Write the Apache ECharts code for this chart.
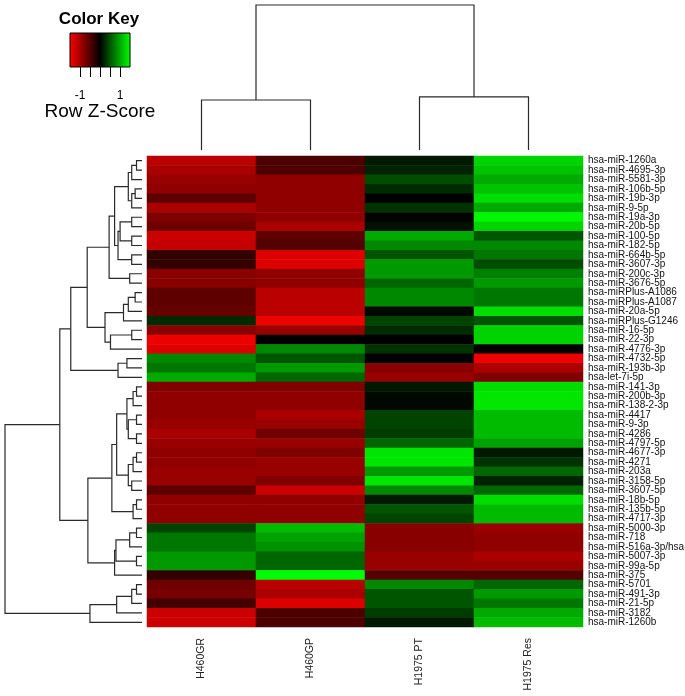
<!DOCTYPE html>
<html style="height: 100%">
<head>
  <meta charset="utf-8">
</head>
<body style="height: 100%; margin: 0; background: #fff">
  <div id="container" style="width: 685px; height: 696px"></div>
  <script type="text/javascript" src="https://cdn.jsdelivr.net/npm/echarts@6/dist/echarts.min.js"></script>
  <script type="text/javascript">
    // samples (columns) and miRNAs (rows, top to bottom)
    var samples = ['H460GR', 'H460GP', 'H1975 PT', 'H1975 Res'];
    var mirnas = [
      'hsa-miR-1260a', 'hsa-miR-4695-3p', 'hsa-miR-5581-3p', 'hsa-miR-106b-5p', 'hsa-miR-19b-3p',
      'hsa-miR-9-5p', 'hsa-miR-19a-3p', 'hsa-miR-20b-5p', 'hsa-miR-100-5p', 'hsa-miR-182-5p',
      'hsa-miR-664b-5p', 'hsa-miR-3607-3p', 'hsa-miR-200c-3p', 'hsa-miR-3676-5p', 'hsa-miRPlus-A1086',
      'hsa-miRPlus-A1087', 'hsa-miR-20a-5p', 'hsa-miRPlus-G1246', 'hsa-miR-16-5p', 'hsa-miR-22-3p',
      'hsa-miR-4776-3p', 'hsa-miR-4732-5p', 'hsa-miR-193b-3p', 'hsa-let-7i-5p', 'hsa-miR-141-3p',
      'hsa-miR-200b-3p', 'hsa-miR-138-2-3p', 'hsa-miR-4417', 'hsa-miR-9-3p', 'hsa-miR-4286',
      'hsa-miR-4797-5p', 'hsa-miR-4677-3p', 'hsa-miR-4271', 'hsa-miR-203a', 'hsa-miR-3158-5p',
      'hsa-miR-3607-5p', 'hsa-miR-18b-5p', 'hsa-miR-135b-5p', 'hsa-miR-4717-3p', 'hsa-miR-5000-3p',
      'hsa-miR-718', 'hsa-miR-516a-3p/hsa-miR-516b-3p', 'hsa-miR-5007-3p', 'hsa-miR-99a-5p', 'hsa-miR-375',
      'hsa-miR-5701', 'hsa-miR-491-3p', 'hsa-miR-21-5p', 'hsa-miR-3182', 'hsa-miR-1260b'
    ];

    // row z-scores, one array per sample
    var zH460GR = [
      -1.1, -1.0, -0.9, -0.85, -0.55, -1.0, -0.75, -0.65, -1.2, -1.15,
      -0.3, -0.3, -0.8, -0.8, -0.55, -0.55, -0.6, 0.25, -0.8, -1.4,
      -1.3, 0.8, 0.7, 1.0, -0.75, -0.85, -0.85, -0.85, -0.9, -1.0,
      -0.9, -0.85, -0.85, -0.9, -0.9, -0.55, -0.85, -0.85, -0.85, 0.4,
      0.7, 0.7, 0.9, 0.9, -0.3, -0.65, -0.7, -0.4, -1.2, -1.2
    ];
    var zH460GP = [
      -0.45, -0.45, -0.85, -0.85, -0.85, -0.85, -0.85, -1.0, -0.55, -0.5,
      -1.3, -1.3, -0.85, -0.85, -1.1, -1.1, -1.1, -1.4, -0.9, 0.0,
      0.8, 0.5, 0.9, 0.6, -0.75, -0.85, -0.85, -1.0, -0.9, -0.65,
      -0.9, -0.75, -0.9, -0.9, -0.75, -1.2, -0.85, -0.85, -0.85, 1.1,
      0.95, 0.85, 0.6, 0.6, 1.5, -1.1, -1.0, -1.3, -0.45, -0.45
    ];
    var zH1975PT = [
      0.15, 0.2, 0.45, 0.25, 0.0, 0.3, 0.02, 0.1, 1.0, 0.8,
      0.5, 0.9, 0.9, 0.6, 0.8, 0.8, 0.05, 0.4, 0.25, 0.0,
      0.3, 0.0, -0.8, -0.9, 0.15, 0.05, 0.05, 0.4, 0.4, 0.35,
      0.6, 1.35, 1.35, 0.9, 1.35, 0.8, 0.15, 0.5, 0.4, -0.8,
      -0.8, -0.8, -0.9, -0.9, -0.5, 0.8, 0.5, 0.5, 0.35, 0.15
    ];
    var zH1975Res = [
      1.25, 1.15, 1.0, 1.15, 1.3, 1.0, 1.45, 1.25, 0.5, 0.8,
      0.7, 0.45, 0.75, 0.9, 0.7, 0.7, 1.3, 0.5, 1.25, 1.25,
      0.0, -1.4, -1.0, -0.75, 1.3, 1.35, 1.35, 1.1, 1.1, 1.1,
      0.95, 0.15, 0.3, 0.6, 0.2, 0.6, 1.3, 1.1, 1.1, -0.9,
      -0.85, -0.85, -1.0, -0.9, -0.5, 0.6, 0.9, 0.7, 1.0, 1.1
    ];

    // dendrograms: [left, right, height], leaves are indices
    var colTree = [[0, 1, 3.45], [2, 3, 3.66], 10];
    var rowTree = [
      [
        [
          [
            [
              [
                [[[0, 1, 0.4], 2, 0.75], [[3, 4, 0.5], 5, 0.75], 1.0],
                [[[6, 7, 0.75], [8, 9, 0.75], 1.6], [10, 11, 0.75], 1.75],
                2.0],
              [12, 13, 0.9],
              2.4],
            [[[[14, 15, 0.5], 16, 1.0], 17, 1.35], [[18, 19, 0.75], 20, 2.3], 2.7],
            4.0],
          [[21, 22, 1.1], 23, 1.75],
          5.2],
        [
          [
            [
              [[[24, 25, 0.4], 26, 0.65], [[27, 28, 0.4], [29, 30, 0.4], 1.0], 1.1],
              [[[31, 32, 0.4], 33, 0.65], [34, 35, 0.75], 1.0],
              1.85],
            [[36, 37, 0.4], 38, 0.65],
            2.2],
          [[[[39, 40, 0.4], 41, 0.9], [42, 43, 0.4], 1.9], 44, 2.0],
          3.95],
        6.0],
      [[[[45, 46, 0.4], 47, 0.75], 48, 1.85], 49, 3.8],
      10
    ];

    var keyRange = [-1.5, 1.5];

    // flatten a nested tree into bracket segments [p1, p2, h, h1, h2]
    function flatten(node, out) {
      if (typeof node === 'number') return { p: node + 0.5, h: 0 };
      var a = flatten(node[0], out), b = flatten(node[1], out);
      out.push([a.p, b.p, node[2], a.h, b.h]);
      return { p: (a.p + b.p) / 2, h: node[2] };
    }
    var colSegs = [], rowSegs = [];
    flatten(colTree, colSegs);
    flatten(rowTree, rowSegs);

    var cells = [];
    [zH460GR, zH460GP, zH1975PT, zH1975Res].forEach(function (col, c) {
      col.forEach(function (v, r) { cells.push([c, r, v]); });
    });

    function dendro(vertical) {
      return function (params, api) {
        var p1 = api.value(0), p2 = api.value(1), h = api.value(2), h1 = api.value(3), h2 = api.value(4);
        var pts = vertical
          ? [[p1, h1], [p1, h], [p2, h], [p2, h2]]
          : [[h1, p1], [h, p1], [h, p2], [h2, p2]];
        return {
          type: 'polyline',
          shape: { points: pts.map(function (p) { return api.coord(p); }) },
          style: { stroke: '#2a2a2a', lineWidth: 1.2, fill: null }
        };
      };
    }

    var font = "'Liberation Sans', Arial, sans-serif";
    var chart = echarts.init(document.getElementById('container'));
    var option = {
      backgroundColor: '#fff',
      animation: false,
      graphic: [
        { type: 'text', x: 99, y: 19, style: { text: 'Color Key', font: "bold 17px 'Liberation Sans', Arial, sans-serif", fill: '#000', align: 'center', verticalAlign: 'middle' } },
        { type: 'text', x: 100, y: 112, style: { text: 'Row Z-Score', font: "19px 'Liberation Sans', Arial, sans-serif", fill: '#000', align: 'center', verticalAlign: 'middle' } }
      ],
      grid: [
        { left: 147, top: 156, width: 436, height: 471, outerBoundsMode: 'none', containLabel: false },
        { left: 147, top: 5, width: 436, height: 145, outerBoundsMode: 'none', containLabel: false },
        { left: 5, top: 156, width: 137, height: 471, outerBoundsMode: 'none', containLabel: false },
        { left: 70, top: 33, width: 60, height: 34, outerBoundsMode: 'none', containLabel: false }
      ],
      xAxis: [
        {
          gridIndex: 0, type: 'category', data: samples,
          axisLine: { show: false }, axisTick: { show: false },
          axisLabel: { rotate: 90, margin: 11, fontSize: 10.5, color: '#222', fontFamily: font }
        },
        { gridIndex: 1, type: 'value', min: 0, max: 4, show: false },
        { gridIndex: 2, type: 'value', min: 0, max: 10, inverse: true, show: false },
        {
          gridIndex: 3, type: 'value', min: keyRange[0], max: keyRange[1],
          splitLine: { show: false }, axisLine: { show: false },
          axisTick: { length: 10, lineStyle: { color: '#000', width: 1 }, customValues: [-1, -0.5, 0, 0.5, 1] },
          axisLabel: { customValues: [-1, 1], margin: 23, fontSize: 12, color: '#000', fontFamily: font }
        }
      ],
      yAxis: [
        {
          gridIndex: 0, type: 'category', data: mirnas, inverse: true, position: 'right',
          axisLine: { show: false }, axisTick: { show: false },
          axisLabel: { interval: 0, margin: 5, fontSize: 10, color: '#111', fontFamily: font }
        },
        { gridIndex: 1, type: 'value', min: 0, max: 10, show: false },
        { gridIndex: 2, type: 'value', min: 0, max: 50, inverse: true, show: false },
        { gridIndex: 3, type: 'value', min: 0, max: 1, show: false }
      ],
      visualMap: {
        show: false, type: 'continuous', seriesIndex: 0, dimension: 2,
        min: keyRange[0], max: keyRange[1],
        inRange: { color: ['#ff0000', '#000000', '#00ff00'] }
      },
      series: [
        { type: 'heatmap', xAxisIndex: 0, yAxisIndex: 0, data: cells },
        { type: 'custom', xAxisIndex: 1, yAxisIndex: 1, data: colSegs, renderItem: dendro(true), silent: true },
        { type: 'custom', xAxisIndex: 2, yAxisIndex: 2, data: rowSegs, renderItem: dendro(false), silent: true },
        {
          type: 'custom', xAxisIndex: 3, yAxisIndex: 3, data: [keyRange], silent: true,
          renderItem: function (params, api) {
            var a = api.coord([api.value(0), 1]), b = api.coord([api.value(1), 0]);
            return {
              type: 'rect',
              shape: { x: a[0], y: a[1], width: b[0] - a[0], height: b[1] - a[1] },
              style: {
                fill: new echarts.graphic.LinearGradient(0, 0, 1, 0, [
                  { offset: 0, color: '#ff0000' }, { offset: 0.5, color: '#000000' }, { offset: 1, color: '#00ff00' }
                ]),
                stroke: '#000', lineWidth: 1
              }
            };
          }
        }
      ]
    };
    chart.setOption(option);
  </script>
</body>
</html>
